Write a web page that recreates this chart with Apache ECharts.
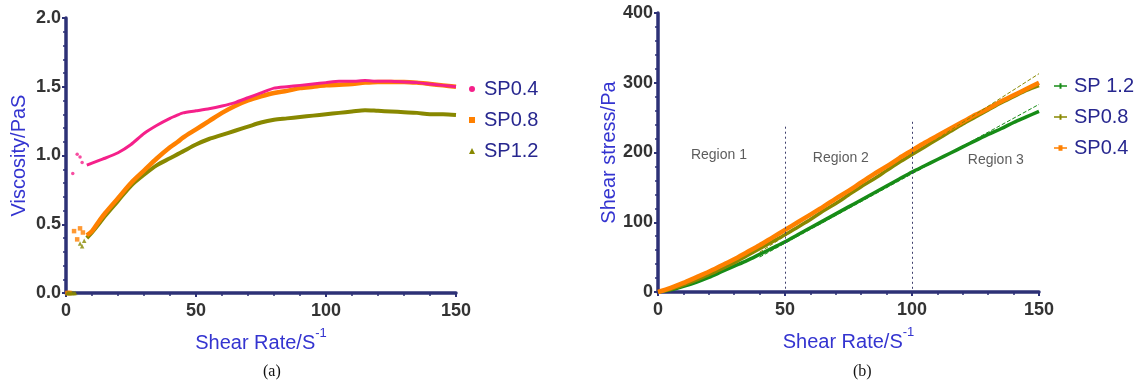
<!DOCTYPE html>
<html>
<head>
<meta charset="utf-8">
<script src="https://cdn.jsdelivr.net/npm/echarts@6/dist/echarts.min.js"></script>
<style>
  html, body { margin: 0; padding: 0; background: #fff; }
  #main { width: 1140px; height: 387px; }
</style>
</head>
<body>
<div id="main"></div>
<script>
// (a) viscosity vs shear rate
var rateA = [8, 10, 13, 15, 20, 25, 30, 35, 40, 43, 45, 50, 55, 60, 65, 70, 75, 80, 85, 90, 95, 100, 105, 110, 115, 120, 125, 130, 135, 140, 145, 150];
var visc04 = [0.93, 0.945, 0.967, 0.98, 1.02, 1.08, 1.16, 1.22, 1.27, 1.295, 1.31, 1.325, 1.34, 1.36, 1.385, 1.42, 1.455, 1.49, 1.50, 1.51, 1.52, 1.53, 1.54, 1.54, 1.545, 1.54, 1.54, 1.535, 1.53, 1.52, 1.51, 1.50];
var visc08 = [0.42, 0.45, 0.53, 0.58, 0.69, 0.80, 0.89, 0.98, 1.06, 1.10, 1.13, 1.19, 1.25, 1.31, 1.36, 1.40, 1.43, 1.455, 1.47, 1.49, 1.50, 1.51, 1.515, 1.52, 1.53, 1.535, 1.535, 1.535, 1.53, 1.52, 1.51, 1.50];
var visc12 = [0.40, 0.44, 0.51, 0.56, 0.67, 0.78, 0.86, 0.93, 0.98, 1.01, 1.03, 1.08, 1.12, 1.15, 1.18, 1.21, 1.24, 1.26, 1.27, 1.28, 1.29, 1.30, 1.31, 1.32, 1.33, 1.325, 1.32, 1.315, 1.31, 1.30, 1.30, 1.295];
// scattered start-up points
var early04 = [[2.6, 0.87], [4.3, 1.01], [5.4, 0.99], [6.2, 0.95]];
var early08 = [[0.5, 0], [1, 0], [1.5, 0], [3.1, 0.45], [4.3, 0.39], [5.4, 0.47], [6.5, 0.44]];
var early12 = [[0.5, 0], [1, 0], [1.5, 0], [2, 0], [2.5, 0], [3, 0], [3.5, 0], [5.4, 0.36], [6.2, 0.34], [7, 0.38]];

// (b) shear stress vs shear rate
var rateB = [0, 5, 10, 15, 20, 25, 30, 35, 40, 45, 50, 55, 60, 65, 70, 75, 80, 85, 90, 95, 100, 105, 110, 115, 120, 125, 130, 135, 140, 145, 150];
var stress04 = [0, 6, 13, 21, 29, 38, 47, 57, 67, 78, 89, 100, 111, 122, 134, 145, 157, 169, 180, 192, 203, 214, 224, 234, 244, 254, 263, 273, 282, 291, 300];
var stress08 = [0, 4, 10, 17, 25, 33, 42, 52, 62, 72, 82, 93, 104, 116, 127, 139, 151, 162, 174, 186, 197, 208, 219, 230, 241, 251, 261, 271, 280, 289, 296];
var stress12 = [0, 3, 8, 14, 21, 29, 37, 45, 54, 63, 72, 82, 92, 102, 112, 122, 132, 142, 152, 162, 172, 181, 190, 199, 208, 217, 226, 234, 243, 251, 259];
var fit08 = [[40, 57], [150, 313]];
var fit12 = [[40, 50], [150, 269]];
var dividers = [[50, 237], [100, 244]];
var regionNames = ['Region 1', 'Region 2', 'Region 3'];
var regionPos = [[24, 196], [72, 192], [133, 189]];

var PINK = '#f5208a';
var ORANGE = '#ff8000';
var OLIVE = '#888800';
var GREEN = '#178c17';
var AXIS = '#2d3176';
var FONT = 'Arial, "Liberation Sans", sans-serif';

function pairs(xs, ys) {
    return xs.map(function (x, i) { return [x, ys[i]]; });
}

function axisBase(extra) {
    var base = {
        type: 'value',
        axisLine: { show: true, onZero: false, lineStyle: { color: AXIS, width: 3.5 } },
        axisTick: { show: true, length: 4, lineStyle: { color: AXIS, width: 2 } },
        minorTick: { show: true, splitNumber: 5, length: 3, lineStyle: { color: AXIS, width: 1.5 } },
        splitLine: { show: false },
        nameLocation: 'middle',
        nameTextStyle: { color: '#3434d0', fontFamily: FONT, fontSize: 20 }
    };
    return Object.assign(base, extra);
}

function tickLabels(margin, fmt) {
    var l = { color: '#333', fontFamily: FONT, fontSize: 18, fontWeight: 'bold', margin: margin };
    if (fmt) {
        l.formatter = fmt;
    }
    return l;
}

var xName = '{n|Shear Rate/S}{s|-1}';
var xRich = {
    n: { color: '#3434d0', fontFamily: FONT, fontSize: 20, lineHeight: 26, verticalAlign: 'bottom' },
    s: { color: '#3434d0', fontFamily: FONT, fontSize: 13, lineHeight: 26, verticalAlign: 'top' }
};

var chart = echarts.init(document.getElementById('main'));
var option = {
    animation: false,
    backgroundColor: '#fff',
    grid: [
        { left: 66, top: 18, width: 390, height: 275 },
        { left: 658, top: 13, width: 381, height: 279 }
    ],
    xAxis: [
        axisBase({ gridIndex: 0, min: 0, max: 150, interval: 50, name: xName, nameGap: 34,
            axisLabel: tickLabels(9), nameTextStyle: { rich: xRich } }),
        axisBase({ gridIndex: 1, min: 0, max: 150, interval: 50, name: xName, nameGap: 34,
            axisLabel: tickLabels(9), nameTextStyle: { rich: xRich } })
    ],
    yAxis: [
        axisBase({ gridIndex: 0, min: 0, max: 2, interval: 0.5, name: 'Viscosity/PaS', nameGap: 37,
            axisLabel: tickLabels(5, function (v) { return v.toFixed(1); }) }),
        axisBase({ gridIndex: 1, min: 0, max: 400, interval: 100, name: 'Shear stress/Pa', nameGap: 39,
            axisLabel: tickLabels(5) })
    ],
    legend: [
        {
            orient: 'vertical', left: 464, top: 74, itemGap: 11, itemWidth: 6, itemHeight: 6,
            textStyle: { color: '#27278f', fontFamily: FONT, fontSize: 20, padding: [0, 0, 0, 4] },
            data: [
                { name: 'SP0.4', icon: 'circle', itemStyle: { color: PINK } },
                { name: 'SP0.8', icon: 'rect', itemStyle: { color: ORANGE } },
                { name: 'SP1.2', icon: 'triangle', itemStyle: { color: OLIVE } }
            ]
        },
        {
            orient: 'vertical', left: 1049, top: 71, itemGap: 11, itemWidth: 13, itemHeight: 7,
            textStyle: { color: '#27278f', fontFamily: FONT, fontSize: 20, padding: [0, 0, 0, 2] },
            data: [
                { name: 'SP 1.2', icon: 'path://M0,3h13v1.5h-13z M5.5,1h2v5.5h-2z', itemStyle: { color: GREEN } },
                { name: 'SP0.8 ', icon: 'path://M0,3h13v1.5h-13z M5.5,1h2v5.5h-2z', itemStyle: { color: OLIVE } },
                { name: 'SP0.4 ', icon: 'path://M0,3h13v1.5h-13z M4.5,1h4v5.5h-4z', itemStyle: { color: ORANGE } }
            ]
        }
    ],
    graphic: [
        { type: 'text', left: 263, top: 364, style: { text: '(a)', font: '16px "Liberation Serif", serif', fill: '#111' } },
        { type: 'text', left: 853, top: 364, style: { text: '(b)', font: '16px "Liberation Serif", serif', fill: '#111' } }
    ],
    series: [
        // (a)
        { name: 'SP1.2', type: 'line', xAxisIndex: 0, yAxisIndex: 0, data: pairs(rateA, visc12),
          smooth: 0.3, showSymbol: false, lineStyle: { color: OLIVE, width: 4 }, itemStyle: { color: OLIVE } },
        { name: 'SP0.8', type: 'line', xAxisIndex: 0, yAxisIndex: 0, data: pairs(rateA, visc08),
          smooth: 0.3, showSymbol: false, lineStyle: { color: ORANGE, width: 4.5 }, itemStyle: { color: ORANGE } },
        { name: 'SP0.4', type: 'line', xAxisIndex: 0, yAxisIndex: 0, data: pairs(rateA, visc04),
          smooth: 0.15, showSymbol: false, lineStyle: { color: PINK, width: 3 }, itemStyle: { color: PINK } },
        { name: 'SP0.4', type: 'scatter', xAxisIndex: 0, yAxisIndex: 0, data: early04,
          symbol: 'circle', symbolSize: 3.5, itemStyle: { color: PINK } },
        { name: 'SP0.8', type: 'scatter', xAxisIndex: 0, yAxisIndex: 0, data: early08,
          symbol: 'rect', symbolSize: 4.5, itemStyle: { color: ORANGE } },
        { name: 'SP1.2', type: 'scatter', xAxisIndex: 0, yAxisIndex: 0, data: early12,
          symbol: 'triangle', symbolSize: 4.5, itemStyle: { color: OLIVE } },
        // (b)
        { name: 'SP 1.2', type: 'line', xAxisIndex: 1, yAxisIndex: 1, data: pairs(rateB, stress12),
          smooth: 0.3, showSymbol: false, lineStyle: { color: GREEN, width: 3.5 }, itemStyle: { color: GREEN } },
        { name: 'SP0.8 ', type: 'line', xAxisIndex: 1, yAxisIndex: 1, data: pairs(rateB, stress08),
          smooth: 0.3, showSymbol: false, lineStyle: { color: OLIVE, width: 3.5 }, itemStyle: { color: OLIVE } },
        { name: 'SP0.4 ', type: 'line', xAxisIndex: 1, yAxisIndex: 1, data: pairs(rateB, stress04),
          smooth: 0.3, showSymbol: false, lineStyle: { color: ORANGE, width: 4.5 }, itemStyle: { color: ORANGE } },
        { name: 'fit08', type: 'line', xAxisIndex: 1, yAxisIndex: 1, data: fit08, showSymbol: false, silent: true,
          lineStyle: { color: OLIVE, width: 1, type: [4, 2] }, z: 3 },
        { name: 'fit12', type: 'line', xAxisIndex: 1, yAxisIndex: 1, data: fit12, showSymbol: false, silent: true,
          lineStyle: { color: GREEN, width: 1, type: [4, 2] }, z: 3,
          markLine: {
              silent: true, symbol: 'none', label: { show: false },
              lineStyle: { color: '#3d3d6b', width: 1, type: [2, 3] },
              data: dividers.map(function (d) { return [{ coord: [d[0], d[1]] }, { coord: [d[0], 0] }]; })
          } },
        { name: 'regions', type: 'scatter', xAxisIndex: 1, yAxisIndex: 1, symbolSize: 0, silent: true,
          data: regionPos.map(function (p, i) { return { value: p, name: regionNames[i] }; }),
          label: { show: true, position: 'inside', formatter: '{b}', color: '#333', fontFamily: FONT, fontSize: 14 } }
    ]
};
chart.setOption(option);
</script>
</body>
</html>
